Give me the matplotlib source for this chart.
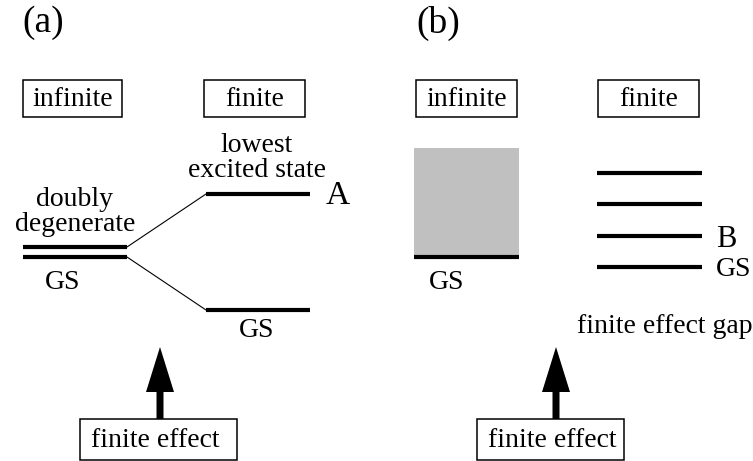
import matplotlib
matplotlib.use('Agg')
import matplotlib.pyplot as plt
from matplotlib.patches import Rectangle, FancyArrow

plt.rcParams['font.family'] = ['Liberation Serif', 'DejaVu Serif']

# panel labels
panel_labels = ['(a)', '(b)']
panel_pos = [(22, 23), (416, 23)]

# header boxes: (x0, y0, x1, y1, text)
header_boxes = [
    (23, 80, 122, 117, 'infinite'),
    (204, 80, 305, 117, 'finite'),
    (416, 80, 517, 117, 'infinite'),
    (598, 80, 699, 117, 'finite'),
]

# bottom boxes with arrows
effect_boxes = [(80, 419, 237, 460), (477, 419, 624, 460)]
effect_text_x = [155, 552]
arrow_x = [160, 556]
arrow_tip_y = 347

# panel (a) levels
deg_levels_y = [247, 257]
deg_x = (23, 127)
split_levels_y = [194, 310]
split_x = (206, 310)

# panel (b)
band_x = (414, 519)
band_y = (148, 257)
finite_levels_y = [173, 204, 236, 267]
finite_x = (597, 702)

fs = 20

fig = plt.figure(figsize=(7.53, 4.61), dpi=100)
ax = fig.add_axes([0, 0, 1, 1])
ax.set_xlim(0, 753)
ax.set_ylim(461, 0)
ax.axis('off')

for lab, (x, y) in zip(panel_labels, panel_pos):
    ax.text(x, y, lab, fontsize=27, ha='left', va='center')

for x0, y0, x1, y1, t in header_boxes:
    ax.add_patch(Rectangle((x0, y0), x1 - x0, y1 - y0, fill=False, lw=1.1, ec='black'))
    ax.text((x0 + x1) / 2, (y0 + y1) / 2 + 1, t, fontsize=fs, ha='center', va='center')

for (x0, y0, x1, y1), tx, axx in zip(effect_boxes, effect_text_x, arrow_x):
    ax.add_patch(Rectangle((x0, y0), x1 - x0, y1 - y0, fill=False, lw=1.1, ec='black'))
    ax.text(tx, (y0 + y1) / 2 + 1, 'finite effect', fontsize=fs, ha='center', va='center')
    ax.add_patch(FancyArrow(axx, y0, 0, arrow_tip_y - y0, width=7, head_width=28,
                            head_length=45, length_includes_head=True,
                            color='black', lw=0))

# (a) degenerate ground state and splitting
for y in deg_levels_y:
    ax.plot(deg_x, [y, y], color='black', lw=3, solid_capstyle='butt')
for y in split_levels_y:
    ax.plot(split_x, [y, y], color='black', lw=3, solid_capstyle='butt')
ax.plot([deg_x[1], split_x[0]], [deg_levels_y[0], split_levels_y[0]], color='black', lw=0.8)
ax.plot([deg_x[1], split_x[0]], [deg_levels_y[1], split_levels_y[1]], color='black', lw=0.8)

ax.text(75, 212, 'doubly\ndegenerate', fontsize=fs, ha='center', va='center', linespacing=0.95)
ax.text(63, 282, 'GS', fontsize=fs, ha='center', va='center')
ax.text(257, 158, 'lowest\nexcited state', fontsize=fs, ha='center', va='center', linespacing=0.95)
ax.text(326, 196, 'A', fontsize=24, ha='left', va='center')
ax.text(257, 330, 'GS', fontsize=fs, ha='center', va='center')

# (b) continuum vs discrete levels
ax.add_patch(Rectangle((band_x[0], band_y[0]), band_x[1] - band_x[0], band_y[1] - band_y[0],
                       color='#c0c0c0', lw=0))
ax.plot(band_x, [band_y[1], band_y[1]], color='black', lw=3, solid_capstyle='butt')
ax.text(447, 282, 'GS', fontsize=fs, ha='center', va='center')
for y in finite_levels_y:
    ax.plot(finite_x, [y, y], color='black', lw=3, solid_capstyle='butt')
ax.text(716, 239, 'B', fontsize=22, ha='left', va='center')
ax.text(716, 269, 'GS', fontsize=fs, ha='left', va='center')
ax.text(577, 326, 'finite effect gap', fontsize=fs, ha='left', va='center')

fig.savefig('out.png', dpi=100)
